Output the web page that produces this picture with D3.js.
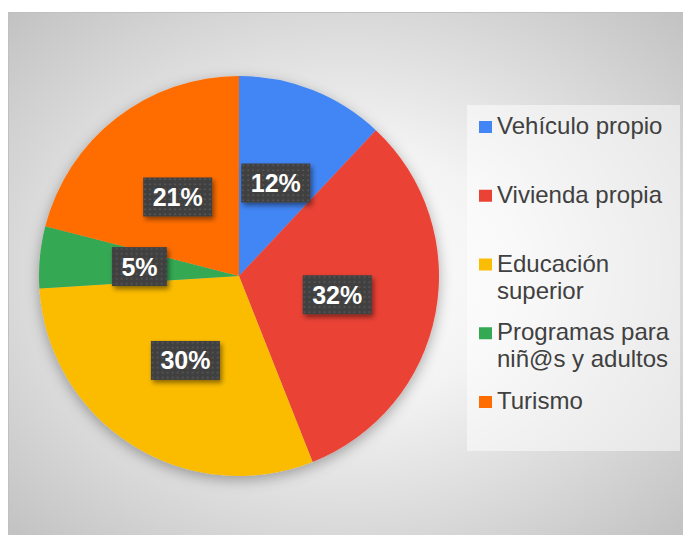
<!DOCTYPE html>
<html>
<head>
<meta charset="utf-8">
<script src="https://cdn.jsdelivr.net/npm/d3@7"></script>
<style>
  body { margin: 0; background: #fff; }
  svg { display: block; font-family: "Liberation Sans", Arial, sans-serif; }
  .legend-label { fill: #404040; font-size: 24px; }
  .slice-label { fill: #fff; font-size: 25px; font-weight: bold; }
</style>
</head>
<body>
<svg id="chart"></svg>
<script>
// Chart data
const categories = ['Vehículo propio', 'Vivienda propia', 'Educación superior', 'Programas para niñ@s y adultos', 'Turismo'];
const legendLines = [['Vehículo propio'], ['Vivienda propia'], ['Educación', 'superior'], ['Programas para', 'niñ@s y adultos'], ['Turismo']];
const values = [12, 32, 30, 5, 21];
const colors = ['#4285f4', '#ea4335', '#fbbc04', '#34a853', '#ff6d01'];

class PieChart {

  constructor(_config) {
    this.config = {
      parentElement: _config.parentElement,
      containerWidth: 683,
      containerHeight: 535,
      frame: { x: 8, y: 12, width: 675, height: 523 },
      center: { x: 239, y: 276 },
      radius: 200,
      legend: { x: 467, y: 105, width: 213, height: 346 }
    }
    this.initVis();
  }

  initVis() {
    let vis = this;

    vis.svg = d3.select(vis.config.parentElement)
      .attr('width', vis.config.containerWidth)
      .attr('height', vis.config.containerHeight);

    const defs = vis.svg.append('defs');

    // Radial background gradient
    const grad = defs.append('radialGradient')
      .attr('id', 'bg-grad')
      .attr('cx', 0.5).attr('cy', 0.5).attr('r', 0.707);
    grad.append('stop').attr('offset', 0).attr('stop-color', '#ffffff');
    grad.append('stop').attr('offset', 0.35).attr('stop-color', '#f3f3f3');
    grad.append('stop').attr('offset', 1).attr('stop-color', '#c2c2c2');

    // Soft shadow under the pie
    const pieShadow = defs.append('filter')
      .attr('id', 'pie-shadow')
      .attr('x', '-20%').attr('y', '-20%').attr('width', '140%').attr('height', '140%');
    pieShadow.append('feDropShadow')
      .attr('dx', 0).attr('dy', 4).attr('stdDeviation', 7)
      .attr('flood-color', '#000').attr('flood-opacity', 0.32);

    // Shadow for the label boxes
    const boxShadow = defs.append('filter')
      .attr('id', 'box-shadow')
      .attr('x', '-30%').attr('y', '-30%').attr('width', '160%').attr('height', '160%');
    boxShadow.append('feDropShadow')
      .attr('dx', 2).attr('dy', 3).attr('stdDeviation', 2.5)
      .attr('flood-color', '#000').attr('flood-opacity', 0.45);

    // Dotted pattern for label boxes
    const pattern = defs.append('pattern')
      .attr('id', 'dots')
      .attr('patternUnits', 'userSpaceOnUse')
      .attr('width', 5).attr('height', 5);
    pattern.append('rect').attr('width', 5).attr('height', 5).attr('fill', '#404040');
    pattern.append('rect').attr('x', 1.5).attr('y', 1.5).attr('width', 1.6).attr('height', 1.6).attr('fill', '#5c5c5c');

    // Chart frame
    const f = vis.config.frame;
    vis.svg.append('rect')
      .attr('x', f.x + 0.5).attr('y', f.y + 0.5)
      .attr('width', f.width).attr('height', f.height)
      .attr('fill', 'url(#bg-grad)')
      .attr('stroke', '#c0c0c0')
      .attr('stroke-width', 1);

    vis.chartArea = vis.svg.append('g')
      .attr('transform', `translate(${vis.config.center.x},${vis.config.center.y})`);

    vis.pie = d3.pie().sort(null).value(d => d.value);
    vis.arc = d3.arc().innerRadius(0).outerRadius(vis.config.radius);

    vis.colorScale = d3.scaleOrdinal().domain(categories).range(colors);

    vis.data = categories.map((c, i) => ({ category: c, value: values[i], lines: legendLines[i] }));
    vis.updateVis();
  }

  updateVis() {
    let vis = this;
    vis.arcs = vis.pie(vis.data);
    vis.total = d3.sum(vis.data, d => d.value);
    vis.renderVis();
  }

  renderVis() {
    let vis = this;

    // Slices
    vis.chartArea.append('g')
      .attr('filter', 'url(#pie-shadow)')
      .selectAll('.slice')
      .data(vis.arcs)
      .join('path')
      .attr('class', 'slice')
      .attr('d', vis.arc)
      .attr('fill', d => vis.colorScale(d.data.category));

    // Percentage labels
    const labels = vis.chartArea.selectAll('.label')
      .data(vis.arcs)
      .join('g')
      .attr('class', 'label')
      .attr('transform', d => `translate(${vis.arc.centroid(d)})`);

    labels.append('text')
      .attr('class', 'slice-label')
      .attr('text-anchor', 'middle')
      .attr('y', 9)
      .text(d => d3.format('.0%')(d.data.value / vis.total));

    labels.each(function() {
      const g = d3.select(this);
      const bb = g.select('text').node().getBBox();
      g.insert('rect', 'text')
        .attr('x', -bb.width / 2 - 9.5)
        .attr('y', -19.5)
        .attr('width', bb.width + 19)
        .attr('height', 39)
        .attr('fill', 'url(#dots)')
        .attr('filter', 'url(#box-shadow)');
    });

    // Legend
    const l = vis.config.legend;
    const legend = vis.svg.append('g')
      .attr('transform', `translate(${l.x},${l.y})`);

    legend.append('rect')
      .attr('width', l.width)
      .attr('height', l.height)
      .attr('fill', '#ffffff')
      .attr('fill-opacity', 0.5);

    const itemY = d3.scaleLinear().domain([0, vis.data.length - 1]).range([29, 304]);

    const items = legend.selectAll('.legend-item')
      .data(vis.data)
      .join('g')
      .attr('class', 'legend-item')
      .attr('transform', (d, i) => `translate(0,${itemY(i)})`);

    items.append('rect')
      .attr('x', 12)
      .attr('y', -13)
      .attr('width', 13)
      .attr('height', 12)
      .attr('fill', d => vis.colorScale(d.category));

    items.append('text')
      .attr('class', 'legend-label')
      .attr('x', 30)
      .selectAll('tspan')
      .data(d => d.lines)
      .join('tspan')
      .attr('x', 30)
      .attr('dy', (d, i) => i === 0 ? 0 : 27)
      .text(d => d);
  }
}

const pieChart = new PieChart({ parentElement: '#chart' });
</script>
</body>
</html>
